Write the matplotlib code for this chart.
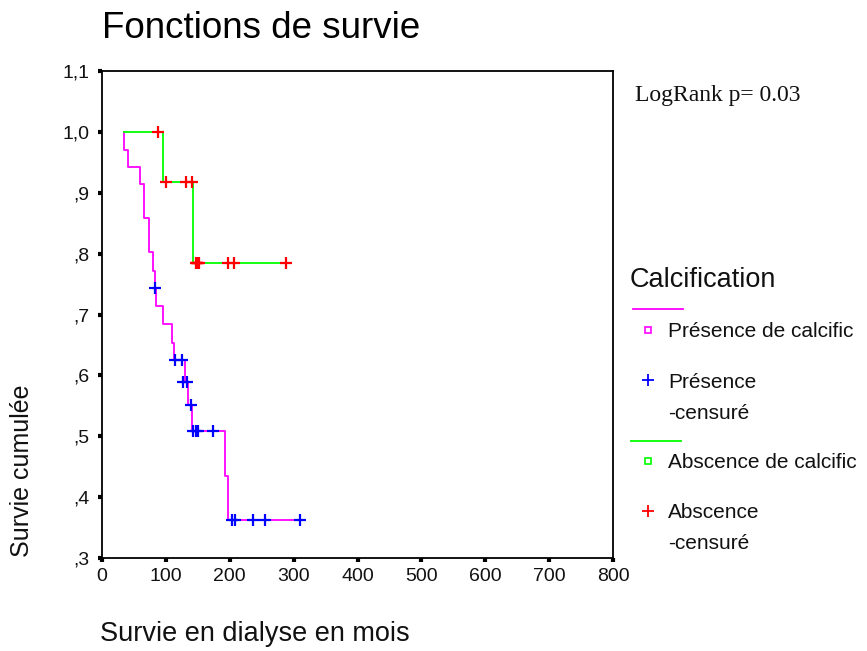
import matplotlib
matplotlib.use("Agg")
import matplotlib.pyplot as plt
from matplotlib.lines import Line2D

# Kaplan-Meier curves: patients with vascular calcification
pres_start = 35
pres_event_times = [35, 40, 59, 66, 74, 80, 83, 85, 95.5, 109, 113.5, 130, 135, 141, 192, 198]
pres_levels = [0.970, 0.943, 0.915, 0.858, 0.802, 0.771, 0.743, 0.714, 0.684,
               0.654, 0.625, 0.589, 0.552, 0.509, 0.435, 0.362]
pres_end = 310
pres_cens_times = [83, 115, 125, 127, 133, 139, 143, 147, 150, 174, 203, 209, 237, 255, 310]
pres_cens_levels = [0.743, 0.625, 0.625, 0.589, 0.589, 0.552, 0.509, 0.509, 0.509, 0.509,
                    0.362, 0.362, 0.362, 0.362, 0.362]

# patients without calcification
abs_start = 35
abs_event_times = [96, 143]
abs_levels = [0.917, 0.785]
abs_end = 288
abs_cens_times = [88, 100, 131, 141, 146.5, 148, 149.5, 151, 152.5, 198, 206, 288]
abs_cens_levels = [1.0, 0.917, 0.917, 0.917, 0.785, 0.785, 0.785, 0.785, 0.785,
                   0.785, 0.785, 0.785]

x_ticks = [0, 100, 200, 300, 400, 500, 600, 700, 800]
y_ticks = [0.3, 0.4, 0.5, 0.6, 0.7, 0.8, 0.9, 1.0, 1.1]
y_tick_labels = [",3", ",4", ",5", ",6", ",7", ",8", ",9", "1,0", "1,1"]

MAGENTA = "#ff00ff"
GREEN = "#00ff00"
BLUE = "#0000ff"
RED = "#ff0000"

W, H = 867, 651
fig = plt.figure(figsize=(W / 100, H / 100), dpi=100)
fig.patch.set_facecolor("white")

def fx(px):
    return px / W

def fy(py):
    return 1 - py / H

ax = fig.add_axes([fx(102), fy(558), fx(613) - fx(102), fy(71) - fy(558)])
ax.set_xlim(0, 800)
ax.set_ylim(0.3, 1.1)

def step_xy(start, times, levels, end):
    t = [start] + list(times) + [end]
    s = [1.0] + list(levels) + [levels[-1]]
    return t, s

t, s = step_xy(pres_start, pres_event_times, pres_levels, pres_end)
ax.step(t, s, where="post", color=MAGENTA, lw=1.3, zorder=2)
t, s = step_xy(abs_start, abs_event_times, abs_levels, abs_end)
ax.step(t, s, where="post", color=GREEN, lw=1.3, zorder=2)

ax.plot(pres_cens_times, pres_cens_levels, ls="none", marker="+", ms=8.5, mew=1.6,
        color=BLUE, zorder=3)
ax.plot(abs_cens_times, abs_cens_levels, ls="none", marker="+", ms=8.5, mew=1.6,
        color=RED, zorder=3)

ax.set_xticks(x_ticks)
ax.set_xticklabels([str(v) for v in x_ticks])
ax.set_yticks(y_ticks)
ax.set_yticklabels(y_tick_labels)
for sp in ax.spines.values():
    sp.set_linewidth(1.3)
    sp.set_color("black")
ax.tick_params(axis="both", direction="out", length=3, width=3, color="black",
               labelsize=14, pad=4, labelcolor="#111111")
ax.tick_params(axis="y", pad=6)
for lab in ax.get_xticklabels() + ax.get_yticklabels():
    lab.set_family("Liberation Sans")

sans = "Liberation Sans"
fig.text(fx(102), fy(38), "Fonctions de survie", fontsize=26.5, family=sans,
         ha="left", va="baseline", color="black")
fig.text(fx(100), fy(641), "Survie en dialyse en mois", fontsize=19.5, family=sans,
         ha="left", va="baseline", color="#111111")
fig.text(fx(22), fy(557), "Survie cumulée", fontsize=18, family=sans, rotation=90,
         ha="center", va="bottom", color="#111111")
fig.text(fx(635), fy(101), "LogRank p= 0.03", fontsize=17, family="Liberation Serif",
         ha="left", va="baseline", color="#111111")

# legend block
fig.text(fx(630), fy(287), "Calcification", fontsize=19.5, family=sans,
         ha="left", va="baseline", color="#111111")
fig.add_artist(Line2D([fx(633), fx(683)], [fy(309), fy(309)], color=MAGENTA, lw=1.3,
                      transform=fig.transFigure))
fig.add_artist(Line2D([fx(648)], [fy(330)], ls="none", marker="s", ms=4.5, mew=1.2,
                      mec=MAGENTA, mfc="white", transform=fig.transFigure))
fig.text(fx(668), fy(337), "Présence de calcific", fontsize=15, family=sans,
         ha="left", va="baseline", color="#111111")
fig.add_artist(Line2D([fx(648)], [fy(380)], ls="none", marker="+", ms=8, mew=1.3,
                      color=BLUE, transform=fig.transFigure))
fig.text(fx(668), fy(388), "Présence", fontsize=15, family=sans,
         ha="left", va="baseline", color="#111111")
fig.text(fx(668), fy(419), "-censuré", fontsize=15, family=sans,
         ha="left", va="baseline", color="#111111")
fig.add_artist(Line2D([fx(631), fx(681)], [fy(441), fy(441)], color=GREEN, lw=1.3,
                      transform=fig.transFigure))
fig.add_artist(Line2D([fx(648)], [fy(461)], ls="none", marker="s", ms=4.5, mew=1.2,
                      mec=GREEN, mfc="white", transform=fig.transFigure))
fig.text(fx(668), fy(468), "Abscence de calcific", fontsize=15, family=sans,
         ha="left", va="baseline", color="#111111")
fig.add_artist(Line2D([fx(648)], [fy(511)], ls="none", marker="+", ms=8, mew=1.3,
                      color=RED, transform=fig.transFigure))
fig.text(fx(668), fy(518), "Abscence", fontsize=15, family=sans,
         ha="left", va="baseline", color="#111111")
fig.text(fx(668), fy(549), "-censuré", fontsize=15, family=sans,
         ha="left", va="baseline", color="#111111")

fig.savefig("out.png", dpi=100, facecolor="white")
